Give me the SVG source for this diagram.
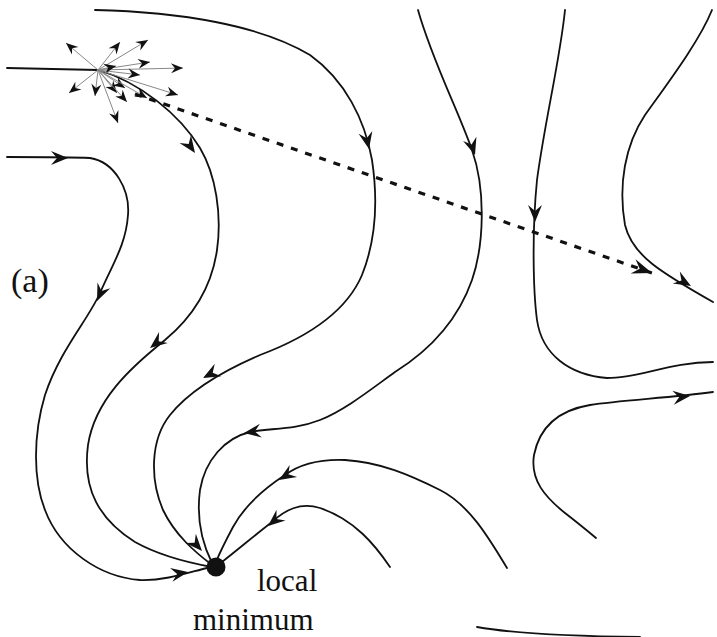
<svg xmlns="http://www.w3.org/2000/svg" xmlns:xlink="http://www.w3.org/1999/xlink" width="717" height="637" viewBox="0 0 717 637">
  <style>
    .flow { fill: none; stroke: #111; stroke-width: 1.8; stroke-linecap: round; }
    .ray { fill: none; stroke: #888; stroke-width: 1; }
    .dash { fill: none; stroke: #111; stroke-width: 3.2; stroke-dasharray: 7 8; }
    .head { fill: #111; stroke: none; }
    text { font-family: "Liberation Serif", "DejaVu Serif", "Times New Roman", serif; fill: #111; }
  </style>
  <defs>
    <!-- barbed arrowhead, tip at the origin pointing along +x -->
    <path id="ah" class="head" d="M0,0 L-17,-7 L-11,0 L-17,7 Z"/>
    <marker id="tipS" viewBox="-13 -6 14 12" refX="0" refY="0" markerWidth="14" markerHeight="12" markerUnits="userSpaceOnUse" orient="auto">
      <path class="head" d="M0,0 L-12,-5 L-8,0 L-12,5 Z"/>
    </marker>
    <marker id="tipD" viewBox="-21 -8 22 16" refX="0" refY="0" markerWidth="22" markerHeight="16" markerUnits="userSpaceOnUse" orient="auto">
      <path class="head" d="M0,0 L-20,-7.5 L-13,0 L-20,7.5 Z"/>
    </marker>
  </defs>
  <rect width="717" height="637" fill="#fff"/>

  <!-- flow lines of the vector field -->
  <g id="connectors">
    <path class="flow" d="M7,68 L98,70"/>
    <!-- leftmost line -->
    <path class="flow" d="M7,157 C40,157 70,157 90,158 C115,162 130,190 128,215 C126,245 112,265 100,293 C88,320 60,350 45,395 C33,435 33,480 45,510 C60,550 100,577 140,580 C165,581 190,572 207,568"/>
    <!-- line leaving the burst point -->
    <path class="flow" d="M98,70 C140,82 180,115 200,148 C216,175 222,215 217,250 C212,285 195,315 165,340 C130,368 95,400 88,445 C82,490 100,520 135,542 C160,556 190,563 212,567"/>
    <path class="flow" d="M95,10 C180,12 260,25 310,55 C345,80 365,120 372,160 C378,200 376,240 362,275 C345,315 300,340 260,355 C225,370 190,390 170,415 C150,440 150,480 163,510 C175,535 195,552 212,565"/>
    <path class="flow" d="M418,10 C432,60 458,110 472,150 C486,190 484,245 472,280 C458,320 430,350 395,372 C370,390 345,410 320,420 C295,430 270,428 250,432 C225,438 205,460 200,490 C196,520 203,545 212,563"/>
    <path class="flow" d="M507,568 C490,540 470,505 440,490 C410,475 380,462 345,460 C320,459 300,464 285,475 C265,488 245,505 233,527 C225,542 220,552 216,562"/>
    <path class="flow" d="M390,567 C375,545 355,520 320,508 C300,502 285,510 272,522 C255,535 240,548 222,562"/>
    <path class="flow" d="M565,10 C560,60 545,120 537,180 C532,230 533,290 537,320 C542,355 570,375 607,378 C640,378 670,362 713,362"/>
    <path class="flow" d="M712,10 C700,40 670,80 645,115 C625,145 618,185 625,225 C632,255 660,272 713,302"/>
    <path class="flow" d="M713,392 C670,398 620,400 590,405 C560,410 540,425 534,455 C530,480 545,497 565,513 C578,523 590,533 596,538"/>
    <path class="flow" d="M477,627 C505,632 545,636 640,637"/>

    <!-- direction heads along the lines -->
    <use xlink:href="#ah" transform="translate(68,158) rotate(0)"/>
    <use xlink:href="#ah" transform="translate(97,301) rotate(114)"/>
    <use xlink:href="#ah" transform="translate(188,572) rotate(-10)"/>
    <use xlink:href="#ah" transform="translate(195,153) rotate(55)"/>
    <use xlink:href="#ah" transform="translate(150,348) rotate(142)"/>
    <use xlink:href="#ah" transform="translate(369,149) rotate(78)"/>
    <use xlink:href="#ah" transform="translate(203,378) rotate(152)"/>
    <use xlink:href="#ah" transform="translate(202,551) rotate(48)"/>
    <use xlink:href="#ah" transform="translate(475,155) rotate(72)"/>
    <use xlink:href="#ah" transform="translate(244,433) rotate(172)"/>
    <use xlink:href="#ah" transform="translate(279,480) rotate(148)"/>
    <use xlink:href="#ah" transform="translate(268,526) rotate(140)"/>
    <use xlink:href="#ah" transform="translate(535,222) rotate(90)"/>
    <use xlink:href="#ah" transform="translate(691,286) rotate(30)"/>
    <use xlink:href="#ah" transform="translate(690,396) rotate(-6)"/>

    <!-- straight jump to the far basin -->
    <path class="dash" d="M135,94 L652,273" marker-end="url(#tipD)"/>
  </g>

  <!-- random trial directions around the starting point -->
  <g id="burst">
    <path class="ray" d="M98,70 L66,43" marker-end="url(#tipS)"/>
    <path class="ray" d="M98,70 L120,42" marker-end="url(#tipS)"/>
    <path class="ray" d="M98,70 L148,40" marker-end="url(#tipS)"/>
    <path class="ray" d="M98,70 L150,62" marker-end="url(#tipS)"/>
    <path class="ray" d="M98,70 L183,68" marker-end="url(#tipS)"/>
    <path class="ray" d="M98,70 L140,75" marker-end="url(#tipS)"/>
    <path class="ray" d="M98,70 L116,66" marker-end="url(#tipS)"/>
    <path class="ray" d="M98,70 L69,93" marker-end="url(#tipS)"/>
    <path class="ray" d="M98,70 L95,96" marker-end="url(#tipS)"/>
    <path class="ray" d="M98,70 L118,123" marker-end="url(#tipS)"/>
    <path class="ray" d="M98,70 L117,93" marker-end="url(#tipS)"/>
    <path class="ray" d="M98,70 L127,102" marker-end="url(#tipS)"/>
    <path class="ray" d="M98,70 L125,88" marker-end="url(#tipS)"/>
    <path class="ray" d="M98,70 L147,98" marker-end="url(#tipS)"/>
    <path class="ray" d="M98,70 L178,95" marker-end="url(#tipS)"/>
  </g>

  <g id="local-minimum">
    <circle cx="216" cy="567" r="9.5" fill="#111"/>
    <text x="257" y="591" font-size="31" font-family="Liberation Serif, DejaVu Serif, serif">local</text>
    <text x="193" y="630" font-size="31" font-family="Liberation Serif, DejaVu Serif, serif">minimum</text>
  </g>

  <g id="panel-label">
    <text x="11" y="292" font-size="34" font-family="Liberation Serif, DejaVu Serif, serif">(a)</text>
  </g>
</svg>
